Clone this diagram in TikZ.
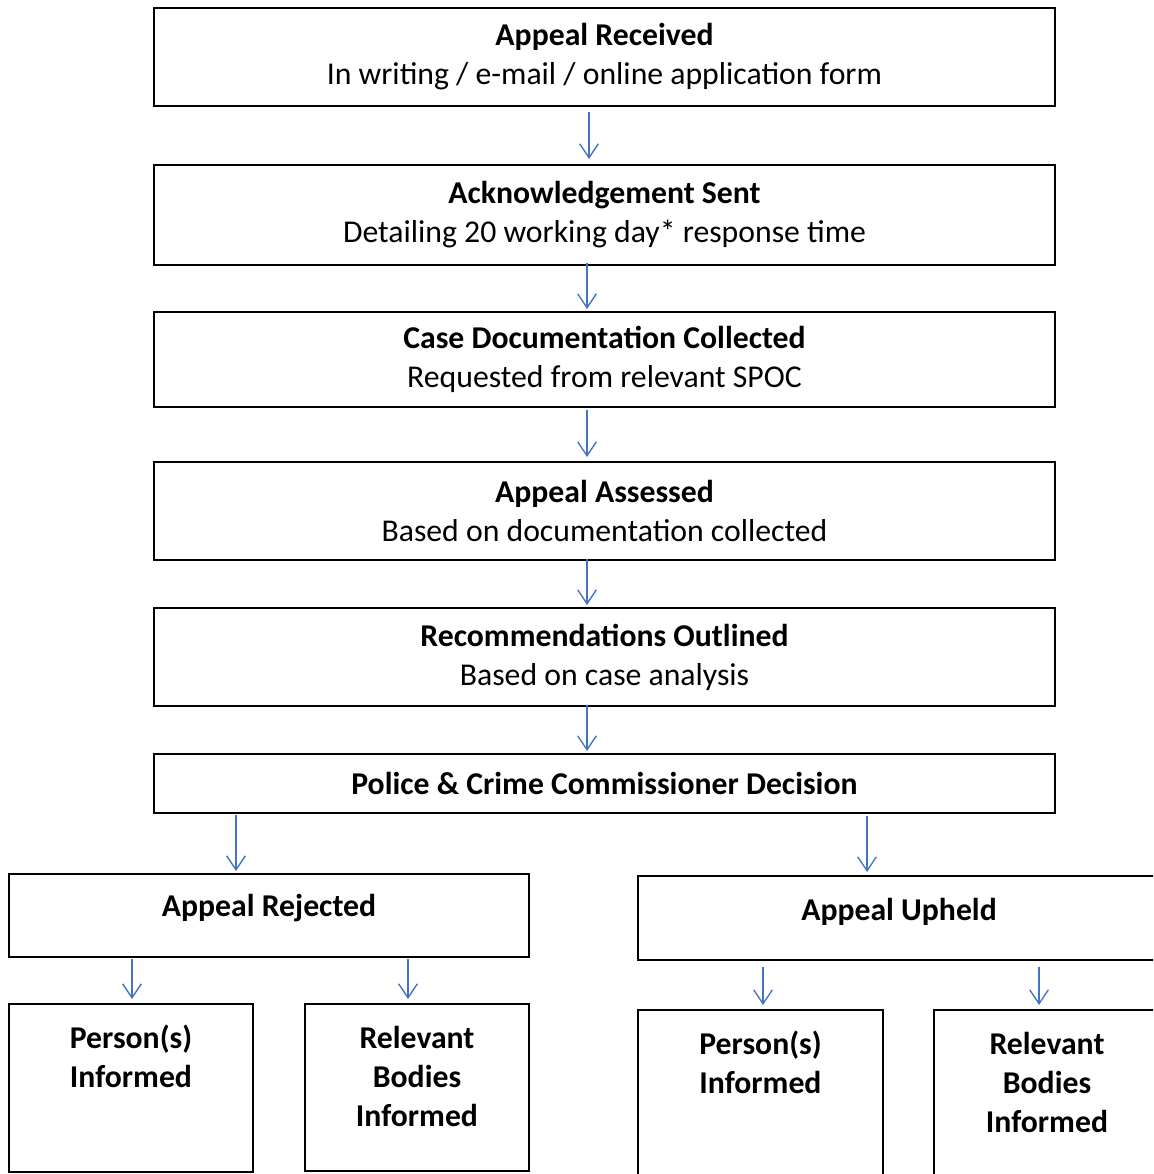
\documentclass[tikz,border=0pt]{standalone}
\usepackage{fontspec}
\setmainfont{Carlito}
\usepackage{xcolor}
\usetikzlibrary{arrows.meta, calc}
\definecolor{flowblue}{RGB}{68,114,196}
\tikzset{
  stage/.style={draw=black, line width=1.5pt, inner sep=0pt, align=center, minimum width=675.75pt, font=\fontsize{23.8}{29.25}\selectfont},
  outcome/.style={draw=black, line width=1.5pt, inner sep=0pt},
  caption/.style={inner sep=0pt, align=center, anchor=base, font=\fontsize{23.8}{29.25}\selectfont\bfseries},
  flow/.style={draw=flowblue, line width=1pt, -{Straight Barb[length=10.5pt, width=14pt]}},
}

\begin{document}
\begin{tikzpicture}[x=0.75pt,y=0.75pt,yscale=-1,xscale=1]
    \useasboundingbox (0,0) rectangle (1153,1174);
    \clip (0,0) rectangle (1153,1174);

    %Shape: Rectangle [stages]
    \node[stage, minimum height=73.5pt] (received) at (604.5,57) {\textbf{Appeal Received}\\In writing / e-mail / online application form};
    \node[stage, minimum height=75pt] (ack) at (604.5,215) {\textbf{Acknowledgement Sent}\\Detailing 20 working day* response time};
    \node[stage, minimum height=71.25pt] (docs) at (604.5,359.5) {\textbf{Case Documentation Collected}\\Requested from relevant SPOC};
    \node[stage, minimum height=73.5pt] (assessed) at (604.5,511) {\textbf{Appeal Assessed}\\Based on documentation collected};
    \node[stage, minimum height=73.5pt] (recommend) at (604.5,657) {\textbf{Recommendations Outlined}\\Based on case analysis};
    \node[stage, minimum height=44.25pt] (decision) at (604.5,783.5) {\textbf{Police \& Crime Commissioner Decision}};

    %Shape: Rectangle [outcomes]
    \node[outcome, minimum width=390pt, minimum height=62.25pt] (rejected) at (269,915.5) {};
    \node[outcome, minimum width=391.5pt, minimum height=63pt] (upheld) at (899,918) {};
    \node[outcome, minimum width=183pt, minimum height=126pt] (rejperson) at (131,1088) {};
    \node[outcome, minimum width=168pt, minimum height=125.25pt] (rejbodies) at (417,1087.5) {};
    \node[outcome, minimum width=183.75pt, minimum height=127.5pt] (upperson) at (760.5,1095) {};
    \node[outcome, minimum width=169.5pt, minimum height=127.5pt] (upbodies) at (1047,1095) {};

    %Text Node
    \node[caption] (rejectedtext) at ($(rejected.north)+(0,43)$) {Appeal Rejected};
    \node[caption] (upheldtext) at ($(upheld.north)+(0,45)$) {Appeal Upheld};
    \node[caption] (rejpersontext) at ($(rejperson.north)+(0,84)$) {Person(s)\\Informed};
    \node[caption] (rejbodiestext) at ($(rejbodies.north)+(0,123)$) {Relevant\\Bodies\\Informed};
    \node[caption] (uppersontext) at ($(upperson.north)+(0,84)$) {Person(s)\\Informed};
    \node[caption] (upbodiestext) at ($(upbodies.north)+(0,123)$) {Relevant\\Bodies\\Informed};

    %Straight Lines
    \draw[flow] ($(received.south)+(-15.5,5)$) -- ($(ack.north)+(-15.5,-5)$);
    \draw[flow] ($(ack.south)+(-17.5,-3)$) -- ($(docs.north)+(-17.5,-2)$);
    \draw[flow] ($(docs.south)+(-17.5,2)$) -- ($(assessed.north)+(-17.5,-4)$);
    \draw[flow] ($(assessed.south)+(-17.5,-2)$) -- ($(recommend.north)+(-17.5,-2)$);
    \draw[flow] ($(recommend.south)+(-17.5,-2)$) -- ($(decision.north)+(-17.5,-2)$);
    \draw[flow] ($(rejected.north |- decision.south)+(-33,1)$) -- ($(rejected.north)+(-33,-2)$);
    \draw[flow] ($(upheld.north |- decision.south)+(-32,2)$) -- ($(upheld.north)+(-32,-3)$);
    \draw[flow] ($(rejperson.north |- rejected.south)+(1,1)$) -- ($(rejperson.north)+(1,-4)$);
    \draw[flow] ($(rejbodies.north |- rejected.south)+(-9,1)$) -- ($(rejbodies.north)+(-9,-4)$);
    \draw[flow] ($(upperson.north |- upheld.south)+(2.5,6)$) -- ($(upperson.north)+(2.5,-4)$);
    \draw[flow] ($(upbodies.north |- upheld.south)+(-8,6)$) -- ($(upbodies.north)+(-8,-4)$);

\end{tikzpicture}
\end{document}
